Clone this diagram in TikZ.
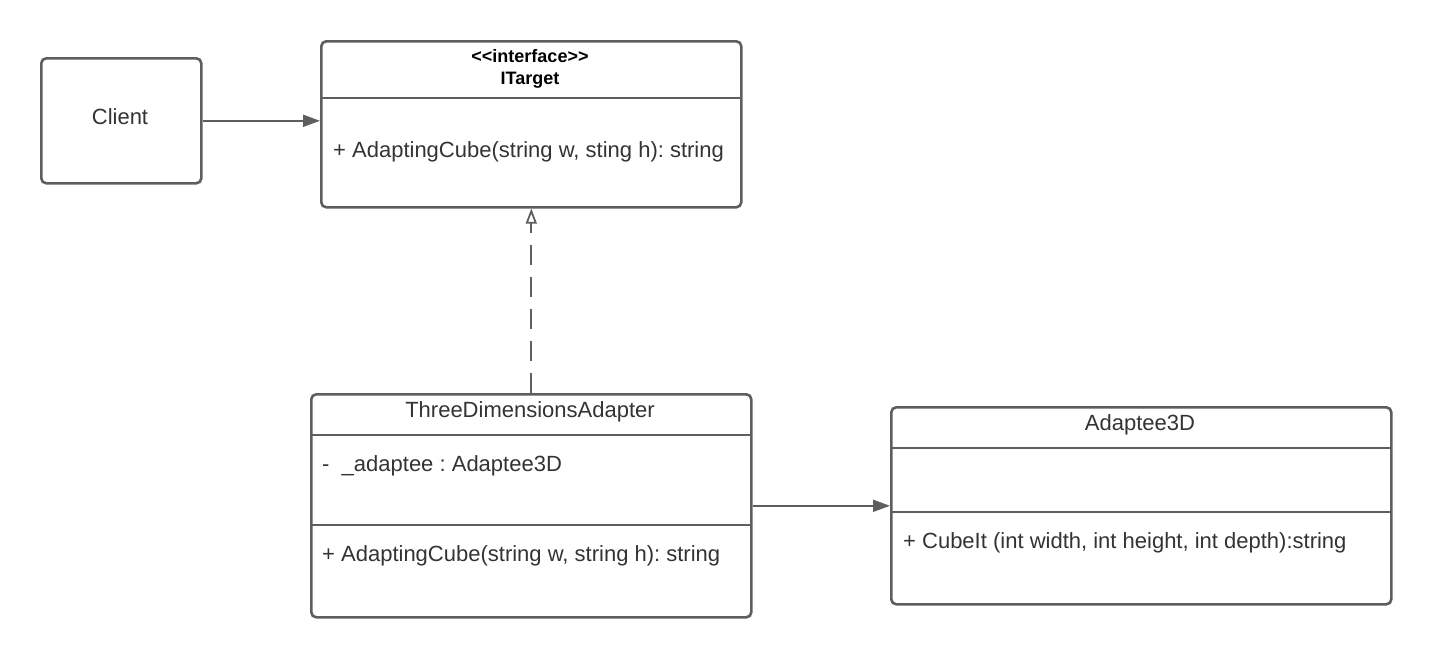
\documentclass[tikz,border=0pt]{standalone}
\usepackage{fontspec}
\setmainfont{Liberation Sans}
\usetikzlibrary{arrows.meta}
\definecolor{umlgray}{HTML}{5E5E5E}
\definecolor{umltext}{HTML}{333333}
\frenchspacing
\tikzset{
  umlbox/.style={draw=umlgray,line width=2.6pt,rounded corners=5pt,anchor=north west,inner sep=0pt},
  divider/.style={draw=umlgray,line width=2.6pt},
  member/.style={anchor=west,text=umltext,font=\fontsize{22}{26}\selectfont,inner sep=0pt},
  title/.style={text=umltext,font=\fontsize{22}{26}\selectfont,inner sep=0pt},
  assoc/.style={draw=umlgray,line width=1.8pt,-{Triangle[length=17pt,width=12pt]}},
  realize/.style={draw=umlgray,line width=1.8pt,dash pattern=on 20pt off 12pt,
    -{Triangle[open,length=15pt,width=11pt,line width=1.8pt]}}
}
\begin{document}
\begin{tikzpicture}[x=1pt,y=-1pt]
  \useasboundingbox (0,0) rectangle (1430,657);

  % class boxes
  \node[umlbox,minimum width=160,minimum height=125] (client) at (40,57) {};
  \node[umlbox,minimum width=420,minimum height=166] (target) at (320,40) {};
  \node[umlbox,minimum width=440,minimum height=223] (adapter) at (310,393) {};
  \node[umlbox,minimum width=500,minimum height=197] (adaptee) at (890,406) {};

  % compartments
  \draw[divider] (320,98) -- (740,98);
  \draw[divider] (310,435) -- (750,435);
  \draw[divider] (310,525) -- (750,525);
  \draw[divider] (890,448) -- (1390,448);
  \draw[divider] (890,512) -- (1390,512);

  % texts
  \node[title] (clientname) at (120,117) {Client};
  \node[title,font=\bfseries\fontsize{18}{22}\selectfont,text=black,align=center] (targetname)
    at (530,69) {{<}{<}interface{>}{>}\\[0pt]ITarget};
  \node[member] (targetop) at (333,152) {+ AdaptingCube(string w, sting h): string};
  \node[title] (adaptername) at (530,412) {ThreeDimensionsAdapter};
  \node[member] (adapterattr) at (322,466) {-\ \ \_adaptee : Adaptee3D};
  \node[member] (adapterop) at (322,556) {+ AdaptingCube(string w, string h): string};
  \node[title] (adapteename) at (1140,425) {Adaptee3D};
  \node[member] (adapteeop) at (903,543) {+ CubeIt (int width, int height, int depth):string};

  % relations
  \draw[assoc] (client.east) -- (client.east -| target.west);
  \draw[realize] (adapter.north) -- (target.south);
  \draw[assoc] (adapter.east) -- (adapter.east -| adaptee.west);

\end{tikzpicture}
\end{document}
